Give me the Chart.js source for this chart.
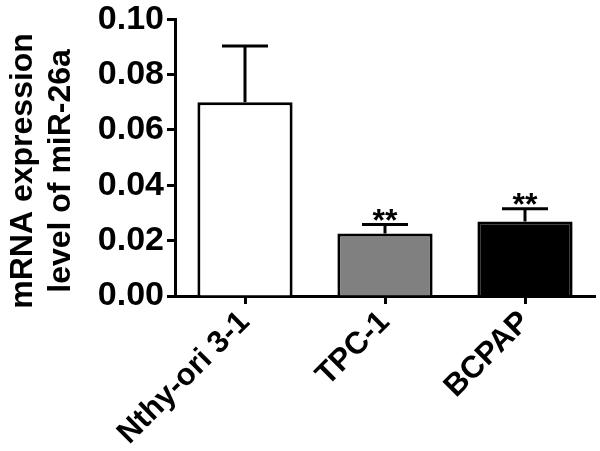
<!DOCTYPE html>
<html>
<head>
<meta charset="utf-8">
<script src="https://cdn.jsdelivr.net/npm/chart.js@4"></script>
<style>
  html, body { margin: 0; padding: 0; background: #fff; }
  #wrap { width: 600px; height: 451px; }
</style>
</head>
<body>
<div id="wrap"><canvas id="mirChart"></canvas></div>
<script>
// data
const cellLines = ["Nthy-ori 3-1", "TPC-1", "BCPAP"];
const meanValues = [0.070, 0.0226, 0.0269];
const sdValues = [0.0203, 0.0032, 0.0046];
const stars = ["", "**", "**"];
const barColors = ["#ffffff", "#808080", "#000000"];
const yTicks = [0, 0.02, 0.04, 0.06, 0.08, 0.10];

const FONT = "'Liberation Sans', Arial, sans-serif";
const PAD = "\u00a0\u00a0\u00a0"; // nudges the rotated title down a little

// error bars + significance marks, positioned with the chart scales
const errorBars = {
  id: "errorBars",
  afterDatasetsDraw(chart) {
    const ctx = chart.ctx;
    const x = chart.scales.x, y = chart.scales.y;
    ctx.save();
    ctx.strokeStyle = "#000";
    ctx.lineWidth = 3;
    ctx.lineCap = "butt";
    meanValues.forEach((v, i) => {
      const px = x.getPixelForValue(i);
      const yBase = y.getPixelForValue(v);
      const yTop = y.getPixelForValue(v + sdValues[i]);
      ctx.beginPath();
      ctx.moveTo(px, yBase);
      ctx.lineTo(px, yTop);
      ctx.moveTo(px - 23, yTop);
      ctx.lineTo(px + 23, yTop);
      ctx.stroke();
      if (stars[i]) {
        ctx.fillStyle = "#000";
        ctx.font = "bold 32px " + FONT;
        ctx.textAlign = "center";
        ctx.textBaseline = "alphabetic";
        ctx.fillText(stars[i], px, yTop + 6);
      }
    });
    ctx.restore();
  }
};

new Chart(document.getElementById("mirChart"), {
  type: "bar",
  data: {
    labels: cellLines,
    datasets: [{
      data: meanValues,
      backgroundColor: barColors,
      borderColor: "#000",
      borderWidth: 3,
      borderSkipped: "bottom",
      barPercentage: 0.68,
      categoryPercentage: 1
    }]
  },
  options: {
    responsive: true,
    maintainAspectRatio: false,
    animation: false,
    layout: { padding: { top: 0, right: 5, left: 4, bottom: 0 } },
    plugins: { legend: { display: false }, tooltip: { enabled: false } },
    scales: {
      x: {
        grid: { display: true, drawOnChartArea: false, offset: false, tickLength: 8, tickWidth: 3, tickColor: "#000" },
        border: { display: true, color: "#000", width: 3 },
        ticks: {
          color: "#000",
          font: { family: FONT, size: 31, weight: "bold" },
          maxRotation: 45,
          minRotation: 45,
          padding: 0
        },
        afterFit(scale) { scale.height = 155; }
      },
      y: {
        min: 0,
        max: 0.10,
        afterBuildTicks(scale) { scale.ticks = yTicks.map(v => ({ value: v })); },
        grid: { display: true, drawOnChartArea: false, tickLength: 8, tickWidth: 3, tickColor: "#000" },
        border: { display: true, color: "#000", width: 3 },
        ticks: {
          color: "#000",
          font: { family: FONT, size: 34, weight: "bold", lineHeight: 0.95 },
          padding: 3,
          callback: v => v.toFixed(2)
        },
        title: {
          display: true,
          text: ["mRNA expression" + PAD, "level of miR-26a" + PAD],
          color: "#000",
          font: { family: FONT, size: 32, weight: "bold", lineHeight: 1.2 },
          padding: { top: 0, bottom: 10 }
        },
        afterFit(scale) { scale.width = 171; }
      }
    }
  },
  plugins: [errorBars]
});
</script>
</body>
</html>
